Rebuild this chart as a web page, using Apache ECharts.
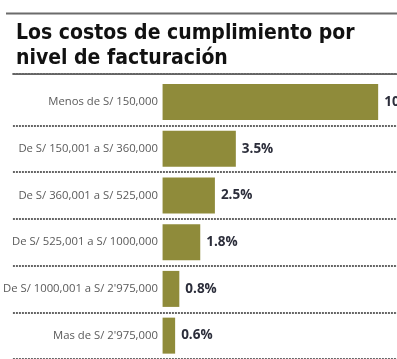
<!DOCTYPE html>
<html><head><meta charset="utf-8">
<script src="https://cdn.jsdelivr.net/npm/echarts@6/dist/echarts.min.js"></script>
<style>html,body{margin:0;padding:0;background:#fff}#c{width:397px;height:359px}</style>
</head><body><div id="c"></div>
<script>
const categories = [
  "Menos de S/ 150,000",
  "De S/ 150,001 a S/ 360,000",
  "De S/ 360,001 a S/ 525,000",
  "De S/ 525,001 a S/ 1000,000",
  "De S/ 1000,001 a S/ 2'975,000",
  "Mas de S/ 2'975,000"
];
const costos = [10.3, 3.5, 2.5, 1.8, 0.8, 0.6];
const titleText = "Los costos de cumplimiento por\nnivel de facturación";

const chart = echarts.init(document.getElementById('c'), null, {renderer: 'canvas'});
const dotted = {color: '#333', width: 1.5, type: [2, 1]};
chart.setOption({
  animation: false,
  title: {
    text: titleText, left: 11, top: 16,
    textStyle: {fontFamily: "'DejaVu Sans Condensed', sans-serif", fontSize: 21, fontWeight: 'bold', color: '#111', lineHeight: 25}
  },
  graphic: [{type: 'line', shape: {x1: 6, y1: 13.5, x2: 397, y2: 13.5}, style: {stroke: '#6b6b6b', lineWidth: 2}}],
  grid: {left: 12, right: 0, top: 78.6, height: 292.8},
  xAxis: {
    type: 'value', min: -7.15, max: 11.2, position: 'top', offset: 5,
    axisLine: {show: true, lineStyle: dotted}, axisTick: {show: false},
    axisLabel: {show: false}, splitLine: {show: false}
  },
  yAxis: {
    type: 'category', data: categories, inverse: true,
    axisLine: {show: false}, axisTick: {show: false},
    axisLabel: {margin: -145, align: 'right', fontFamily: "'Open Sans', sans-serif", fontSize: 11.3, color: '#5a5a5a'},
    splitLine: {show: true, interval: function (i) { return i !== 0; }, lineStyle: dotted}
  },
  series: [{
    type: 'bar', data: costos, barWidth: 36,
    itemStyle: {color: '#8f8b3a'},
    label: {
      show: true, position: 'right', distance: 6,
      formatter: p => p.value.toFixed(1) + '%',
      fontFamily: "'Open Sans', sans-serif", fontWeight: 'bold', fontSize: 13.5, color: '#2b2d3a'
    }
  }]
});
</script></body></html>
